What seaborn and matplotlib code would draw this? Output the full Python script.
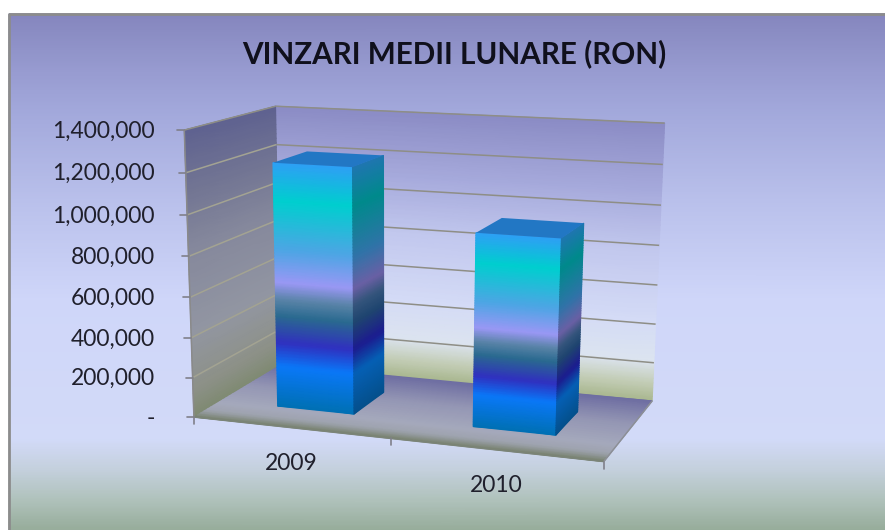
import numpy as np
import pandas as pd
import seaborn as sns
import matplotlib
matplotlib.use('Agg')
import matplotlib.pyplot as plt
from matplotlib.colors import LinearSegmentedColormap
from matplotlib.transforms import Affine2D, Transform

years = [2009, 2010]
sales = [1220000, 945000]
y_ticks = [0, 200000, 400000, 600000, 800000, 1000000, 1200000, 1400000]
title = 'VINZARI MEDII LUNARE (RON)'

W, H = 885, 530
y_max = 1400000
bar_depth = (0.3, 0.7)
x_start = years[0] - 0.5

# pixel positions of the chart box: (u, depth, value in millions) -> (px, py)
frame_points = [
    (0, 0, 1.4, 183, 130.5), (0, 0, 1.2, 185, 172.7), (0, 0, 1.0, 187, 215),
    (0, 0, 0.8, 188.5, 256), (0, 0, 0, 195, 416),
    (0, 1, 1.4, 277, 107), (0, 1, 1.2, 277, 144), (0, 1, 0, 277, 368),
    (2, 1, 1.4, 665, 123), (2, 1, 1.0, 660, 205), (2, 1, 0.6, 657.7, 285),
    (2, 1, 0.2, 654, 362), (2, 1, 0, 652, 400),
    (2, 0, 0, 603, 463), (1, 0, 0, 390, 440),
    (0.3, 0.3, 0, 279, 405), (0.7, 0.3, 0, 355, 413), (1.3, 0.3, 0, 473, 427),
    (1.7, 0.3, 0, 556, 435), (0.7, 0.7, 0, 385, 390), (1.7, 0.7, 0, 578, 413),
]


def fit_camera(points):
    rows, rhs = [], []
    for u, d, v, px, py in points:
        rows.append([u, d, v, 1, 0, 0, 0, 0, -u * px, -d * px, -v * px])
        rows.append([0, 0, 0, 0, u, d, v, 1, -u * py, -d * py, -v * py])
        rhs += [px, py]
    sol = np.linalg.lstsq(np.array(rows), np.array(rhs), rcond=None)[0]
    return np.append(sol, 1).reshape(3, 4)


camera = fit_camera(frame_points)


def project(u, d, v):
    u, d, v = np.broadcast_arrays(np.asarray(u, float), np.asarray(d, float), np.asarray(v, float))
    p = camera @ np.stack([u.ravel(), d.ravel(), v.ravel(), np.ones(u.size)])
    return (p[0] / p[2]).reshape(u.shape), (p[1] / p[2]).reshape(u.shape)


class BarPlane(Transform):
    # data coords of the bar axes -> picture pixels, on one depth plane
    input_dims = output_dims = 2

    def __init__(self, plane):
        super().__init__()
        self.plane = plane

    def transform_non_affine(self, values):
        values = np.asarray(values, float)
        x, y = project(values[:, 0] - x_start, self.plane, values[:, 1] / 1e6)
        return np.column_stack([x, y])


sns.set_theme(style='white')
plt.rcParams['font.family'] = ['Lato', 'DejaVu Sans']

fig = plt.figure(figsize=(W / 100, H / 100), dpi=100, facecolor='white')
ax = fig.add_axes([0, 0, 1, 1])
pixels = Affine2D().scale(1 / W, -1 / H).translate(0, 1) + fig.transFigure


def ramp(stops):
    return LinearSegmentedColormap.from_list('r', stops, N=512)


def shade(X, Y, C, cmap, z):
    ax.pcolormesh(X, Y, C, shading='gouraud', cmap=cmap, vmin=0, vmax=1,
                  transform=pixels, zorder=z)


def line(a, b, color, lw=1.0, z=2):
    xs, ys = project(*np.array([a, b]).T)
    ax.plot(xs, ys, color=color, lw=lw, transform=pixels, zorder=z, solid_capstyle='butt')


df = pd.DataFrame({'an': years, 'vinzari': sales})
sns.barplot(data=df, x='an', y='vinzari', native_scale=True, width=0.4, color='#1f77c4', ax=ax, zorder=3)
ax.set_xlim(x_start, x_start + 2)
ax.set_ylim(0, y_max)
ax.set_autoscale_on(False)
ax.axis('off')

# background
bg_top, bg_bottom = 14, 530
bg_y = np.linspace(bg_top, bg_bottom, 200)
bg_cmap = ramp([((y - bg_top) / (bg_bottom - bg_top), c) for y, c in [
    (14, '#8586BE'), (70, '#979BD0'), (110, '#A2A8DB'), (200, '#B9C0EB'), (300, '#CFD6F9'),
    (440, '#D2DAF8'), (470, '#C4D0DD'), (500, '#B0C2BC'), (530, '#97AD9B')]])
X, Y = np.meshgrid([9, W], bg_y)
shade(X, Y, (Y - bg_top) / (bg_bottom - bg_top), bg_cmap, 0)
ax.plot([9, 9, W], [H, 14, 14], color='#8C8C8C', lw=2, transform=pixels, zorder=1)

# walls and floor
top = y_max / 1e6
levels = np.linspace(0, top, 60)
back_cmap = ramp([(0, '#A9B78F'), (0.07, '#C4CEB8'), (0.15, '#DCE4F0'), (0.3, '#D4DBF6'),
                  (0.55, '#C2C8EE'), (0.75, '#A8ACDD'), (1, '#8B8CC5')])
left_cmap = ramp([(0, '#7F8A72'), (0.1, '#8D9188'), (0.3, '#9296A2'), (0.6, '#85889C'),
                  (0.8, '#727593'), (1, '#5F6290')])
floor_cmap = ramp([(0, '#76806C'), (0.12, '#9EA3AE'), (0.25, '#A5A9BC'), (0.6, '#9496B4'), (1, '#6E6EA2')])

U, V = np.meshgrid([0, 2], levels)
X, Y = project(U, 1, V)
shade(X, Y, V / top, back_cmap, 1)
D, V = np.meshgrid([0, 1], levels)
X, Y = project(0, D, V)
shade(X, Y, V / top, left_cmap, 1)
U, D = np.meshgrid([0, 2], np.linspace(0, 1, 30))
X, Y = project(U, D, 0)
shade(X, Y, D, floor_cmap, 1)

# gridlines and axis lines
for t in y_ticks[1:]:
    v = t / 1e6
    line((0, 1, v), (2, 1, v), '#8E8E86', 1.1)
    line((0, 0, v), (0, 1, v), '#A3A392' if t < y_max else '#8E8E86', 1.1)
line((0, 0, 0), (0, 0, top), '#8A8A8A', 1.1)
line((0, 0, 0), (2, 0, 0), '#7B8478', 1.1)
line((2, 0, 0), (2, 1, 0), '#8C8F96', 1.1)

# y ticks and labels
for t in y_ticks:
    px, py = project(0, 0, t / 1e6)
    ax.plot([px - 7, px], [py, py], color='#80808A', lw=1.2, transform=pixels, zorder=2)
    label = f'{t:,}' if t else '-'
    ax.text(155, py + 1, label, transform=pixels, ha='right', va='center',
            fontsize=16.5, color='#20202C', zorder=6)

# x ticks and labels
for u in (0, 1, 2):
    px, py = project(u, 0, 0)
    ax.plot([px, px], [py, py + 7], color='#80808A', lw=1.2, transform=pixels, zorder=2)
for i, year in enumerate(years):
    px, py = project(i + 0.5, 0, 0)
    ax.text(px + 1, py + 36, str(year), transform=pixels, ha='center', va='center',
            fontsize=16.5, color='#20202C', zorder=6)

ax.text(454, 54, title, transform=pixels, ha='center', va='center', fontsize=21.3,
        fontweight='bold', color='#10101C', zorder=6)

# bars: front, side and top faces from the seaborn rectangles
front_stops = [(0, '#0070B4'), (0.17, '#0A78F8'), (0.27, '#3030C0'), (0.38, '#2A6A90'),
               (0.45, '#5A84A8'), (0.52, '#9A98F5'), (0.65, '#4FA5E5'), (0.85, '#00CFCF'),
               (1, '#2EA0F5')]
side_stops = [(0, '#04508C'), (0.17, '#0560B5'), (0.27, '#1C1C90'), (0.38, '#1F4570'),
              (0.45, '#34557C'), (0.52, '#6A60A5'), (0.65, '#2F74A8'), (0.85, '#008A8C'),
              (1, '#1F76B0')]
front_cmap, side_cmap = ramp(front_stops), ramp(side_stops)

for bar in list(ax.patches):
    bar.set_transform(BarPlane(bar_depth[0]) + pixels)
    bar.set_edgecolor('none')
    bar.set_linewidth(0)
    u0 = bar.get_x() - x_start
    u1 = u0 + bar.get_width()
    h = bar.get_height() / 1e6
    d0, d1 = bar_depth
    frac = np.linspace(0, 1, 80)

    U, F = np.meshgrid([u0, u1], frac)
    X, Y = project(U, d0, F * h)
    shade(X, Y, F, front_cmap, 5)

    D, F = np.meshgrid([d0, d1], frac)
    X, Y = project(u1, D, F * h)
    shade(X, Y, F, side_cmap, 5)

    xs, ys = project([u0, u1, u1, u0], [d0, d0, d1, d1], h)
    ax.fill(xs, ys, color='#2277C4', lw=0, transform=pixels, zorder=5)

fig.savefig('out.png', dpi=100)
